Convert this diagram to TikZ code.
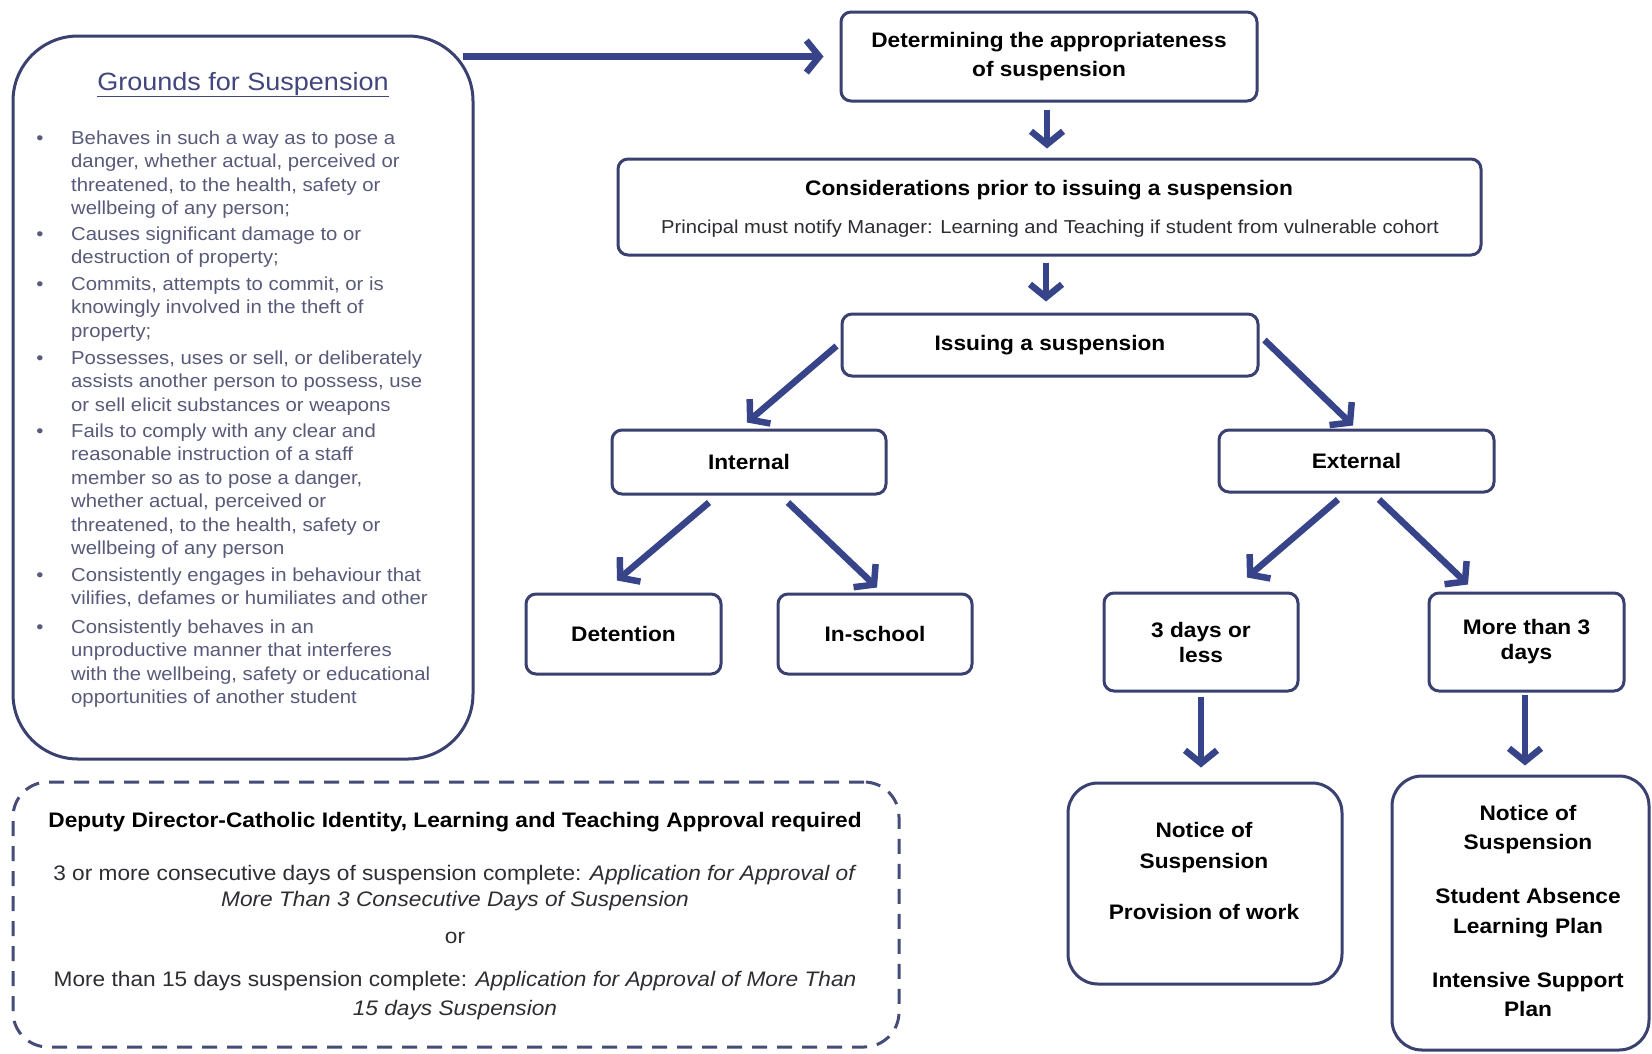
\documentclass[tikz,border=0pt]{standalone}
\usepackage{fontspec}
\setmainfont{Liberation Sans}[FakeStretch=1.08]
\usetikzlibrary{arrows.meta}
\definecolor{arrc}{RGB}{56,68,138}
\definecolor{boxc}{RGB}{58,64,112}
\definecolor{gtxt}{RGB}{88,90,122}
\definecolor{gtitle}{RGB}{66,70,125}
\definecolor{dashc}{RGB}{70,76,120}
\definecolor{dtext}{RGB}{45,45,50}
\begin{document}
\begin{tikzpicture}[x=1pt,y=-1pt,
  box/.style={draw=boxc, line width=3pt, rounded corners=10pt, fill=white, align=center, inner sep=0pt, font=\bfseries\fontsize{21}{25}\selectfont},
  bigbox/.style={box, rounded corners=30pt},
  arr/.style={draw=arrc, line width=6.5pt, -{Straight Barb[length=13pt,width=32pt]}},
  gline/.style={anchor=base west, inner sep=0pt, text=gtxt, font=\fontsize{18.8}{23.5}\selectfont},
  gdot/.style={anchor=base, inner sep=0pt, text=gtxt, font=\fontsize{18.8}{23.5}\selectfont},
  dline/.style={anchor=base, inner sep=0pt, text=dtext, font=\fontsize{21}{25}\selectfont},
  lbl/.style={inner sep=0pt, align=center, font=\bfseries\fontsize{21}{25}\selectfont}
]
\useasboundingbox (0,0) rectangle (1652,1053);
\fill[white] (0,0) rectangle (1652,1053);

% ---- Grounds box ----
\node[draw=boxc, line width=3pt, rounded corners=65pt, minimum width=460pt, minimum height=723pt, inner sep=0pt] (grounds) at (243,397.5) {};
\node[anchor=base, inner sep=0pt, text=gtitle, font=\fontsize{25}{30}\selectfont] (gtitle) at (243,90) {\underline{Grounds for Suspension}};
\foreach \yy/\txt [count=\i] in {
  144/{Behaves in such a way as to pose a},
  167.5/{danger, whether actual, perceived or},
  191/{threatened, to the health, safety or},
  214.5/{wellbeing of any person;},
  240/{Causes significant damage to or},
  263.5/{destruction of property;},
  290/{Commits, attempts to commit, or is},
  313.5/{knowingly involved in the theft of},
  337/{property;},
  364/{Possesses, uses or sell, or deliberately},
  387.5/{assists another person to possess, use},
  411/{or sell elicit substances or weapons},
  437/{Fails to comply with any clear and},
  460.5/{reasonable instruction of a staff},
  484/{member so as to pose a danger,},
  507.5/{whether actual, perceived or},
  531/{threatened, to the health, safety or},
  554.5/{wellbeing of any person},
  581/{Consistently engages in behaviour that},
  604.5/{vilifies, defames or humiliates and other},
  633/{Consistently behaves in an},
  656.5/{unproductive manner that interferes},
  680/{with the wellbeing, safety or educational},
  703.5/{opportunities of another student}}
  \node[gline] (gl\i) at (71,\yy) {\txt};
\foreach \yy [count=\i] in {144,240,290,364,437,581,633}
  \node[gdot] (gb\i) at (40,\yy) {\textbullet};

% ---- Approval (dashed) box ----
\node[draw=dashc, line width=3pt, dash pattern=on 15pt off 10pt, rounded corners=35pt, minimum width=886pt, minimum height=265pt, inner sep=0pt] (appr) at (456,914.5) {};
\node[dline, text=black, font=\bfseries\fontsize{21}{25}\selectfont] (a1) at (455,827) {Deputy Director-Catholic Identity, Learning and Teaching Approval required};
\node[dline] (a2) at (455,880) {3 or more consecutive days of suspension complete: \textit{Application for Approval of}};
\node[dline] (a3) at (455,906) {\textit{More Than 3 Consecutive Days of Suspension}};
\node[dline] (a4) at (455,943) {or};
\node[dline] (a5) at (455,986) {More than 15 days suspension complete: \textit{Application for Approval of More Than}};
\node[dline] (a6) at (455,1015) {\textit{15 days Suspension}};

% ---- Flow boxes ----
\node[box, minimum width=416pt, minimum height=89pt, font=\bfseries\fontsize{21}{29}\selectfont] (top) at (1049,56.5) {Determining the appropriateness\\of suspension};
\node[box, minimum width=863pt, minimum height=96pt] (cons) at (1049.5,207) {};
\node[anchor=base, inner sep=0pt, font=\bfseries\fontsize{21}{25}\selectfont] (ct) at (1049,195) {Considerations prior to issuing a suspension};
\node[anchor=base, inner sep=0pt, text=dtext, font=\fontsize{18.7}{23}\selectfont] (cs) at (1050,233) {Principal must notify Manager: Learning and Teaching if student from vulnerable cohort};
\node[box, minimum width=416pt, minimum height=62pt] (iss) at (1050,345) {Issuing a suspension};
\node[box, minimum width=274pt, minimum height=64pt] (int) at (749,462) {Internal};
\node[box, minimum width=275pt, minimum height=62pt] (ext) at (1356.5,461) {External};
\node[box, minimum width=195pt, minimum height=80pt] (det) at (623.5,634) {Detention};
\node[box, minimum width=194pt, minimum height=80pt] (ins) at (875,634) {In-school};
\node[box, minimum width=194pt, minimum height=98pt] (d3) at (1201,642) {3 days or\\less};
\node[box, minimum width=195pt, minimum height=98pt] (m3) at (1526.5,642) {More than 3\\days};
\node[bigbox, minimum width=274pt, minimum height=201pt] (n1) at (1205,883.5) {};
\node[lbl, font=\bfseries\fontsize{21}{31}\selectfont] (n1t) at (1204,871) {Notice of\\Suspension\\[20pt]Provision of work};
\node[bigbox, minimum width=257pt, minimum height=274pt] (n2) at (1520.5,913) {};
\node[lbl, font=\bfseries\fontsize{21}{29.5}\selectfont] (n2t) at (1528,911) {Notice of\\Suspension\\[24.5pt]Student Absence\\Learning Plan\\[24.5pt]Intensive Support\\Plan};

% ---- Connectors ----
\coordinate (gs) at (463,56.5);
\draw[arr] (gs) -- ([xshift=-16pt]top.west);
\draw[arr] ([xshift=-2pt,yshift=-7pt]top.south) -- ([xshift=-2.5pt,yshift=9pt]cons.north);
\draw[arr] ([xshift=-3.5pt,yshift=-6pt]cons.south) -- ([xshift=-4pt,yshift=11pt]iss.north);
\draw[arr] ([xshift=-4pt,yshift=-1pt]iss.west) -- ([xshift=-2pt,yshift=6pt]int.north);
\draw[arr] ([xshift=5pt,yshift=5pt]iss.east) -- ([xshift=-3.5pt,yshift=3pt]ext.north);
\draw[arr] ([xshift=-40pt,yshift=-7pt]int.south) -- ([xshift=-6.5pt,yshift=12pt]det.north);
\draw[arr] ([xshift=39pt,yshift=-7pt]int.south) -- ([xshift=2pt,yshift=5pt]ins.north);
\draw[arr] ([xshift=-18.5pt,yshift=-6pt]ext.south) -- ([xshift=46pt,yshift=14pt]d3.north);
\draw[arr] ([xshift=22.5pt,yshift=-6pt]ext.south) -- ([xshift=-58.5pt,yshift=7pt]m3.north);
\draw[arr] ([yshift=-4pt]d3.south) -- ([xshift=-4pt,yshift=14pt]n1.north);
\draw[arr] ([xshift=-1.5pt,yshift=-2pt]m3.south) -- ([xshift=4.5pt,yshift=9pt]n2.north);
\end{tikzpicture}
\end{document}
